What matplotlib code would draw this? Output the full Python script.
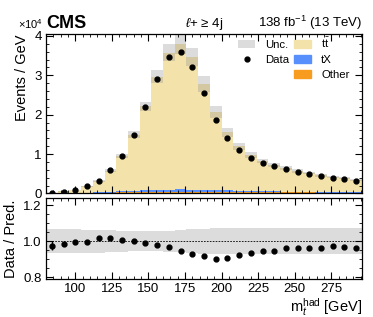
import numpy as np
import matplotlib
matplotlib.use('Agg')
from matplotlib import pyplot as plt
from matplotlib.patches import Patch
from matplotlib.lines import Line2D
from matplotlib.ticker import MultipleLocator, FormatStrFormatter

plt.rcParams['font.family'] = ['Liberation Sans', 'DejaVu Sans']
plt.rcParams['mathtext.fontset'] = 'custom'
plt.rcParams['mathtext.rm'] = 'Liberation Sans'
plt.rcParams['mathtext.it'] = 'Liberation Sans:italic'

# bin edges in GeV (8 GeV bins)
edges = np.arange(80, 297, 8)

# events / GeV in units of 1e4
data = [0.015, 0.050, 0.090, 0.180, 0.330, 0.590, 0.960, 1.490, 2.190,
        2.900, 3.460, 3.590, 3.220, 2.550, 1.870, 1.410, 1.110, 0.910,
        0.780, 0.690, 0.620, 0.550, 0.500, 0.440, 0.400, 0.370, 0.320]
data_err_rel = [0.025, 0.012, 0.009, 0.006, 0.004, 0.003, 0.003, 0.002, 0.002,
                0.002, 0.002, 0.002, 0.002, 0.002, 0.002, 0.002, 0.002, 0.002,
                0.002, 0.002, 0.002, 0.002, 0.002, 0.002, 0.002, 0.002, 0.002]
pred = [0.0154, 0.0509, 0.0905, 0.181, 0.325, 0.581, 0.954, 1.490, 2.210,
        2.965, 3.578, 3.787, 3.477, 2.781, 2.073, 1.553, 1.203, 0.974,
        0.825, 0.728, 0.646, 0.573, 0.521, 0.458, 0.410, 0.383, 0.333]
other = [0.003, 0.006, 0.010, 0.015, 0.020, 0.025, 0.030, 0.035, 0.040,
         0.045, 0.048, 0.050, 0.050, 0.048, 0.045, 0.042, 0.040, 0.037,
         0.035, 0.033, 0.031, 0.029, 0.027, 0.025, 0.023, 0.021, 0.020]
tx = [0.002, 0.004, 0.007, 0.010, 0.015, 0.020, 0.026, 0.033, 0.040,
      0.046, 0.050, 0.052, 0.050, 0.046, 0.040, 0.035, 0.030, 0.026,
      0.023, 0.020, 0.018, 0.016, 0.014, 0.013, 0.012, 0.011, 0.010]
unc_rel = [0.066, 0.066, 0.065, 0.064, 0.063, 0.061, 0.059, 0.057, 0.056,
           0.056, 0.058, 0.062, 0.066, 0.070, 0.072, 0.072, 0.072, 0.071,
           0.071, 0.071, 0.071, 0.071, 0.071, 0.071, 0.071, 0.071, 0.071]

c_tt = '#f3e2a9'
c_tx = '#5790fc'
c_other = '#f89c20'
c_unc = '#969696'

data = np.array(data)
pred = np.array(pred)
other = np.array(other)
tx = np.array(tx)
unc_rel = np.array(unc_rel)
centers = 0.5 * (edges[1:] + edges[:-1])

fig = plt.figure(figsize=(3.73, 3.17), dpi=100)
ax = fig.add_axes([0.1233, 0.3896, 0.8472, 0.5031])
rax = fig.add_axes([0.1233, 0.1199, 0.8472, 0.2555], sharex=ax)

# stacked histograms
ax.stairs(other, edges, fill=True, color=c_other, lw=0)
ax.stairs(other + tx, edges, baseline=other, fill=True, color=c_tx, lw=0)
ax.stairs(pred, edges, baseline=other + tx, fill=True, color=c_tt, lw=0)
ax.stairs(pred * (1 + unc_rel), edges, baseline=pred * (1 - unc_rel),
          fill=True, color=c_unc, alpha=0.33, lw=0)
ax.errorbar(centers, data, yerr=data * np.array(data_err_rel), fmt='o',
            color='black', ms=3.5, elinewidth=1, capsize=0)

ax.set_xlim(80, 296)
ax.set_ylim(0, 4.05)
ax.set_ylabel('Events / GeV', fontsize=10.5, loc='top')
ax.yaxis.set_major_locator(MultipleLocator(1))
ax.yaxis.set_minor_locator(MultipleLocator(0.2))
ax.tick_params(labelbottom=False)

# ratio panel
ratio = data / pred
rax.stairs(1 + unc_rel, edges, baseline=1 - unc_rel, fill=True,
           color=c_unc, alpha=0.33, lw=0)
rax.axhline(1.0, color='black', ls=(0, (2, 1.5)), lw=0.6)
rax.errorbar(centers, ratio, yerr=ratio * np.array(data_err_rel), fmt='o',
             color='black', ms=3.5, elinewidth=1, capsize=0)
rax.set_ylim(0.79, 1.24)
rax.yaxis.set_major_locator(MultipleLocator(0.2))
rax.yaxis.set_minor_locator(MultipleLocator(0.05))
rax.xaxis.set_major_locator(MultipleLocator(25))
rax.xaxis.set_minor_locator(MultipleLocator(5))
rax.yaxis.set_major_formatter(FormatStrFormatter('%.1f'))
rax.set_ylabel('Data / Pred.', fontsize=10.5)
rax.set_xlabel(r'm$_t^{\mathrm{had}}$ [GeV]', fontsize=10.5, loc='right',
               labelpad=0.5)

for a in (ax, rax):
    a.tick_params(which='both', direction='in', top=True, right=True,
                  labelsize=9.5, pad=3)
    a.tick_params(which='major', length=5)
    a.tick_params(which='minor', length=2.5)
    for s in a.spines.values():
        s.set_linewidth(0.9)
fig.align_ylabels([ax, rax])

# legend
blank = Patch(visible=False, label='')
handles = [Patch(color=c_unc, alpha=0.33, lw=0, label='Unc.'),
           Line2D([], [], marker='o', ms=3.5, color='black', ls='',
                  label='Data'),
           blank,
           Patch(color=c_tt, label=r'$\mathrm{t\bar{t}}$'),
           Patch(color=c_tx, label='tX'),
           Patch(color=c_other, label='Other')]
leg = ax.legend(handles=handles, ncol=2, loc='upper right', frameon=False,
                fontsize=8.2, handlelength=1.5, handleheight=0.65,
                handletextpad=0.85, labelspacing=0.42, columnspacing=0.45,
                borderaxespad=0.0, bbox_to_anchor=(0.975, 1.016))

# header texts
ax.text(0.0, 1.012, 'CMS', transform=ax.transAxes, fontsize=13,
        fontweight='bold', ha='left', va='bottom')
ax.text(-0.01, 1.02, r'×10$^4$', transform=ax.transAxes, fontsize=8,
        ha='right', va='bottom')
ax.text(0.5, 1.012, r'$\ell$+ ≥ 4j', transform=ax.transAxes, fontsize=9.5,
        ha='center', va='bottom')
ax.text(1.0, 1.012, r'138 fb$^{-1}$ (13 TeV)', transform=ax.transAxes,
        fontsize=9.5, ha='right', va='bottom')

fig.savefig('out.png', dpi=100)
